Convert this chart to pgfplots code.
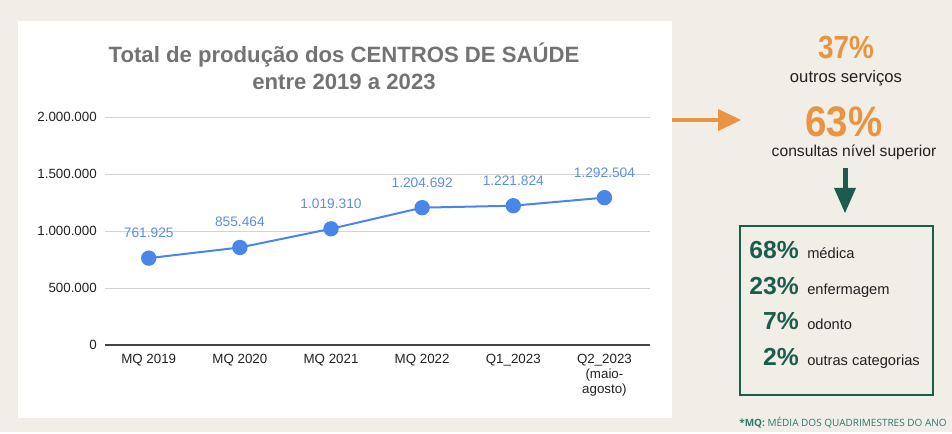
\documentclass[border=0pt]{standalone}
\usepackage{pgfplots}
\pgfplotsset{compat=1.18}
\usepackage{fontspec}
\setmainfont{Liberation Sans}
\newfontfamily\opensans{Open Sans}
\definecolor{bg}{HTML}{F1EDE7}
\definecolor{titlegray}{HTML}{737373}
\definecolor{ticktext}{HTML}{222222}
\definecolor{lineblue}{HTML}{4A86E8}
\definecolor{labelblue}{HTML}{5B8FE3}
\definecolor{gridgray}{HTML}{D3D3D3}
\definecolor{axisgray}{HTML}{444444}
\definecolor{orangeA}{HTML}{EA9340}
\definecolor{greenD}{HTML}{1C5C4F}
\definecolor{greenF}{HTML}{2E7A68}
\begin{document}
\begin{tikzpicture}[x=0.75pt,y=0.75pt]
\fill[bg] (0,0) rectangle (952,432);
\fill[white] (18,14) rectangle (672,411);
\node[font=\fontsize{16.6}{19}\selectfont\bfseries, text=titlegray, anchor=base] at (344,369) {Total de produção dos CENTROS DE SAÚDE};
\node[font=\fontsize{16.6}{19}\selectfont\bfseries, text=titlegray, anchor=base] at (344,342) {entre 2019 a 2023};
\begin{axis}[
  at={(78.75pt,65.25pt)}, anchor=south west, scale only axis,
  width=408.75pt, height=171pt,
  xmin=-0.48, xmax=5.5, ymin=0, ymax=2000000,
  xtick={0,1,2,3,4,5},
  xticklabels={MQ 2019, MQ 2020, MQ 2021, MQ 2022, Q1\_2023, {Q2\_2023\\(maio-\\agosto)}},
  ytick={0,500000,1000000,1500000,2000000},
  yticklabels={0,500.000,1.000.000,1.500.000,2.000.000},
  scaled y ticks=false,
  axis lines*=left,
  y axis line style={draw=none},
  x axis line style={draw=axisgray, line width=1pt},
  ymajorgrids, grid style={draw=gridgray, line width=0.6pt},
  major tick length=0pt,
  tick label style={font=\fontsize{10}{11.5}\selectfont, text=ticktext},
  xticklabel style={align=center, anchor=north, yshift=-3pt},
  yticklabel style={anchor=east, inner sep=0pt, xshift=-6pt},
  /pgf/number format/assume math mode=true,
  clip=false,
  nodes near coords, point meta=explicit symbolic,
  every node near coord/.style={font=\fontsize{10.3}{12}\selectfont, text=labelblue, anchor=center, yshift=19pt},
]
\addplot[color=lineblue, line width=1.5pt, mark=*, mark size=5pt, mark options={fill=lineblue, draw=lineblue}]
 coordinates {(0,761925) [761.925] (1,855464) [855.464] (2,1019310) [1.019.310] (3,1204692) [1.204.692] (4,1221824) [1.221.824] (5,1292504) [1.292.504]};
\end{axis}
% orange arrow
\draw[orangeA, line width=3pt] (672,312) -- (720,312);
\fill[orangeA] (718,323) -- (741,312) -- (718,301) -- cycle;
\node[anchor=base, text=orangeA, font=\fontsize{24}{28}\selectfont\bfseries] at (846,373) {\scalebox{0.87}[1]{37\%}};
\node[anchor=base, text=ticktext, font=\fontsize{12.5}{15}\selectfont] at (846,349) {outros serviços};
\node[anchor=base, text=orangeA, font=\fontsize{32}{36}\selectfont\bfseries] at (844,295) {\scalebox{0.9}[1]{63\%}};
\node[anchor=base, text=ticktext, font=\fontsize{11.75}{14}\selectfont] at (854,275) {consultas nível superior};
% green arrow
\draw[greenD, line width=3.75pt] (845,264) -- (845,242);
\fill[greenD] (834,244) -- (856,244) -- (845,219) -- cycle;
% box
\draw[greenD, line width=1.2pt] (740,206) rectangle (933,37);
\foreach \p/\l/\b in {68\%/médica/173, 23\%/enfermagem/137, 7\%/odonto/102, 2\%/outras categorias/66}{
  \node[anchor=base east, inner sep=0pt, text=greenD, font=\fontsize{18.5}{21}\selectfont\bfseries] at (799,\b) {\p};
  \node[anchor=base west, inner sep=0pt, text=ticktext, font=\fontsize{11}{13}\selectfont] at (807,\b) {\l};
}
\node[anchor=base, text=greenF, font=\opensans\fontsize{7.5}{9}\selectfont] at (843,5) {\textbf{*MQ:} MÉDIA DOS QUADRIMESTRES DO ANO};
\end{tikzpicture}
\end{document}
